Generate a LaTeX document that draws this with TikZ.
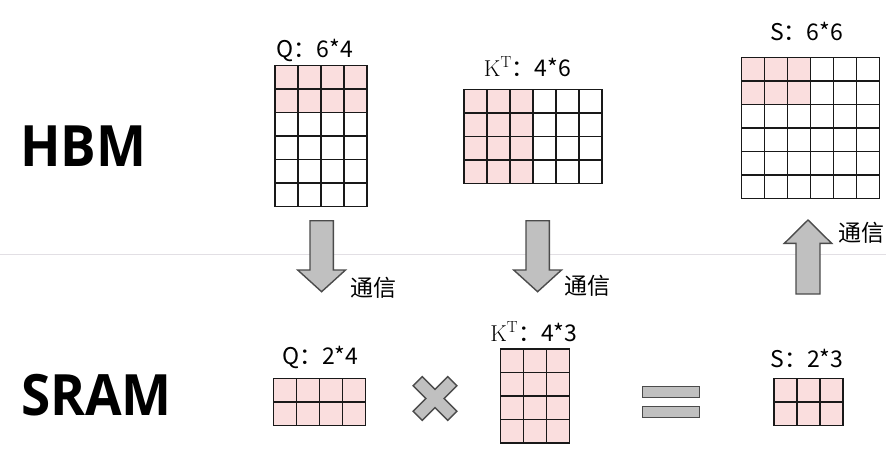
\documentclass[tikz,border=0pt]{standalone}
\usepackage{fontspec}
\newfontfamily\cjk{Noto Sans CJK SC}
\newfontfamily\headfont[FakeStretch=0.93]{Open Sans}
\definecolor{cellpink}{RGB}{250,222,222}
\definecolor{arrowgray}{RGB}{192,192,192}
\definecolor{edgegray}{RGB}{75,75,75}
\definecolor{rulegray}{RGB}{226,223,228}
\def\cw{23}
\def\ch{23.5}
% grid: x0, y0, cols, rows, pink cols, pink rows
\newcommand{\cellgrid}[6]{%
  \fill[cellpink] (#1,#2) rectangle ++({#5*\cw},{#6*\ch});
  \foreach \c in {1,...,#3}{\foreach \r in {1,...,#4}{
    \draw[cell] ({#1+(\c-1)*\cw},{#2+(\r-1)*\ch}) rectangle ++(\cw,\ch);}}
}
\begin{document}
\begin{tikzpicture}[x=1pt,y=-1pt]
\tikzstyle{cell}=[draw=black!90, line width=1.5pt]
\tikzstyle{dim}=[font=\cjk\fontsize{23}{25}\selectfont, inner sep=0pt]
\tikzstyle{comm}=[font=\cjk\fontsize{23}{25}\selectfont, inner sep=0pt]
\tikzstyle{level}=[font=\headfont\bfseries\fontsize{57}{60}\selectfont, inner sep=0pt, anchor=base west]
\tikzstyle{blockarrow}=[draw=edgegray, fill=arrowgray, line width=1.4pt, line join=miter]

\useasboundingbox (0,0) rectangle (886,450);
\fill[white] (0,0) rectangle (886,450);

\draw[rulegray, line width=1.5pt] (0,254.3) -- (886,254.3);

\node[level] (hbm) at (20,166.7) {HBM};
\node[level] (sram) at (21,415.7) {SRAM};

% HBM matrices
\cellgrid{275}{65.7}{4}{6}{4}{2}
\cellgrid{464}{89.3}{6}{4}{3}{4}
\cellgrid{741.7}{57.3}{6}{6}{3}{2}
\node[dim] (qhbm) at (315,50) {Q：6*4};
\node[dim] (khbm) at (527.5,66.7) {{\rmfamily K}$^{\mathrm{T}}$：4*6};
\node[dim] (shbm) at (806.7,31.5) {S：6*6};

% SRAM matrices
\cellgrid{273.5}{378.3}{4}{2}{4}{2}
\cellgrid{500.7}{349}{3}{4}{3}{4}
\cellgrid{774}{378.3}{3}{2}{3}{2}
\node[dim] (qsram) at (320.3,357.5) {Q：2*4};
\node[dim] (ksram) at (533.8,332) {{\rmfamily K}$^{\mathrm{T}}$：4*3};
\node[dim] (ssram) at (807,358) {S：2*3};

% transfers
\draw[blockarrow] (310,220.7) -- (333.3,220.7) -- (333.3,270) -- (345.5,270) -- (321.6,291.7)
  -- (297.7,270) -- (310,270) -- cycle;
\draw[blockarrow] (526,220.7) -- (549.3,220.7) -- (549.3,270) -- (561.5,270) -- (537.6,291.7)
  -- (513.7,270) -- (526,270) -- cycle;
\draw[blockarrow] (796,294) -- (820,294) -- (820,243.3) -- (831.6,243.3) -- (808,220)
  -- (784.4,243.3) -- (796,243.3) -- cycle;
\node[comm] (comm1) at (373,287.3) {通信};
\node[comm] (comm2) at (587.5,286) {通信};
\node[comm] (comm3) at (861,232.7) {通信};

% operators
\begin{scope}[shift={(435,398.5)},rotate=45]
\draw[blockarrow] (6.5,-24.5) -- (6.5,-6.5) -- (24.5,-6.5) -- (24.5,6.5) -- (6.5,6.5) -- (6.5,24.5)
  -- (-6.5,24.5) -- (-6.5,6.5) -- (-24.5,6.5) -- (-24.5,-6.5) -- (-6.5,-6.5) -- (-6.5,-24.5) -- cycle;
\end{scope}
\draw[blockarrow] (642.7,386.7) rectangle (699.3,397.3);
\draw[blockarrow] (642.7,406.7) rectangle (699.3,417.7);

\end{tikzpicture}
\end{document}
